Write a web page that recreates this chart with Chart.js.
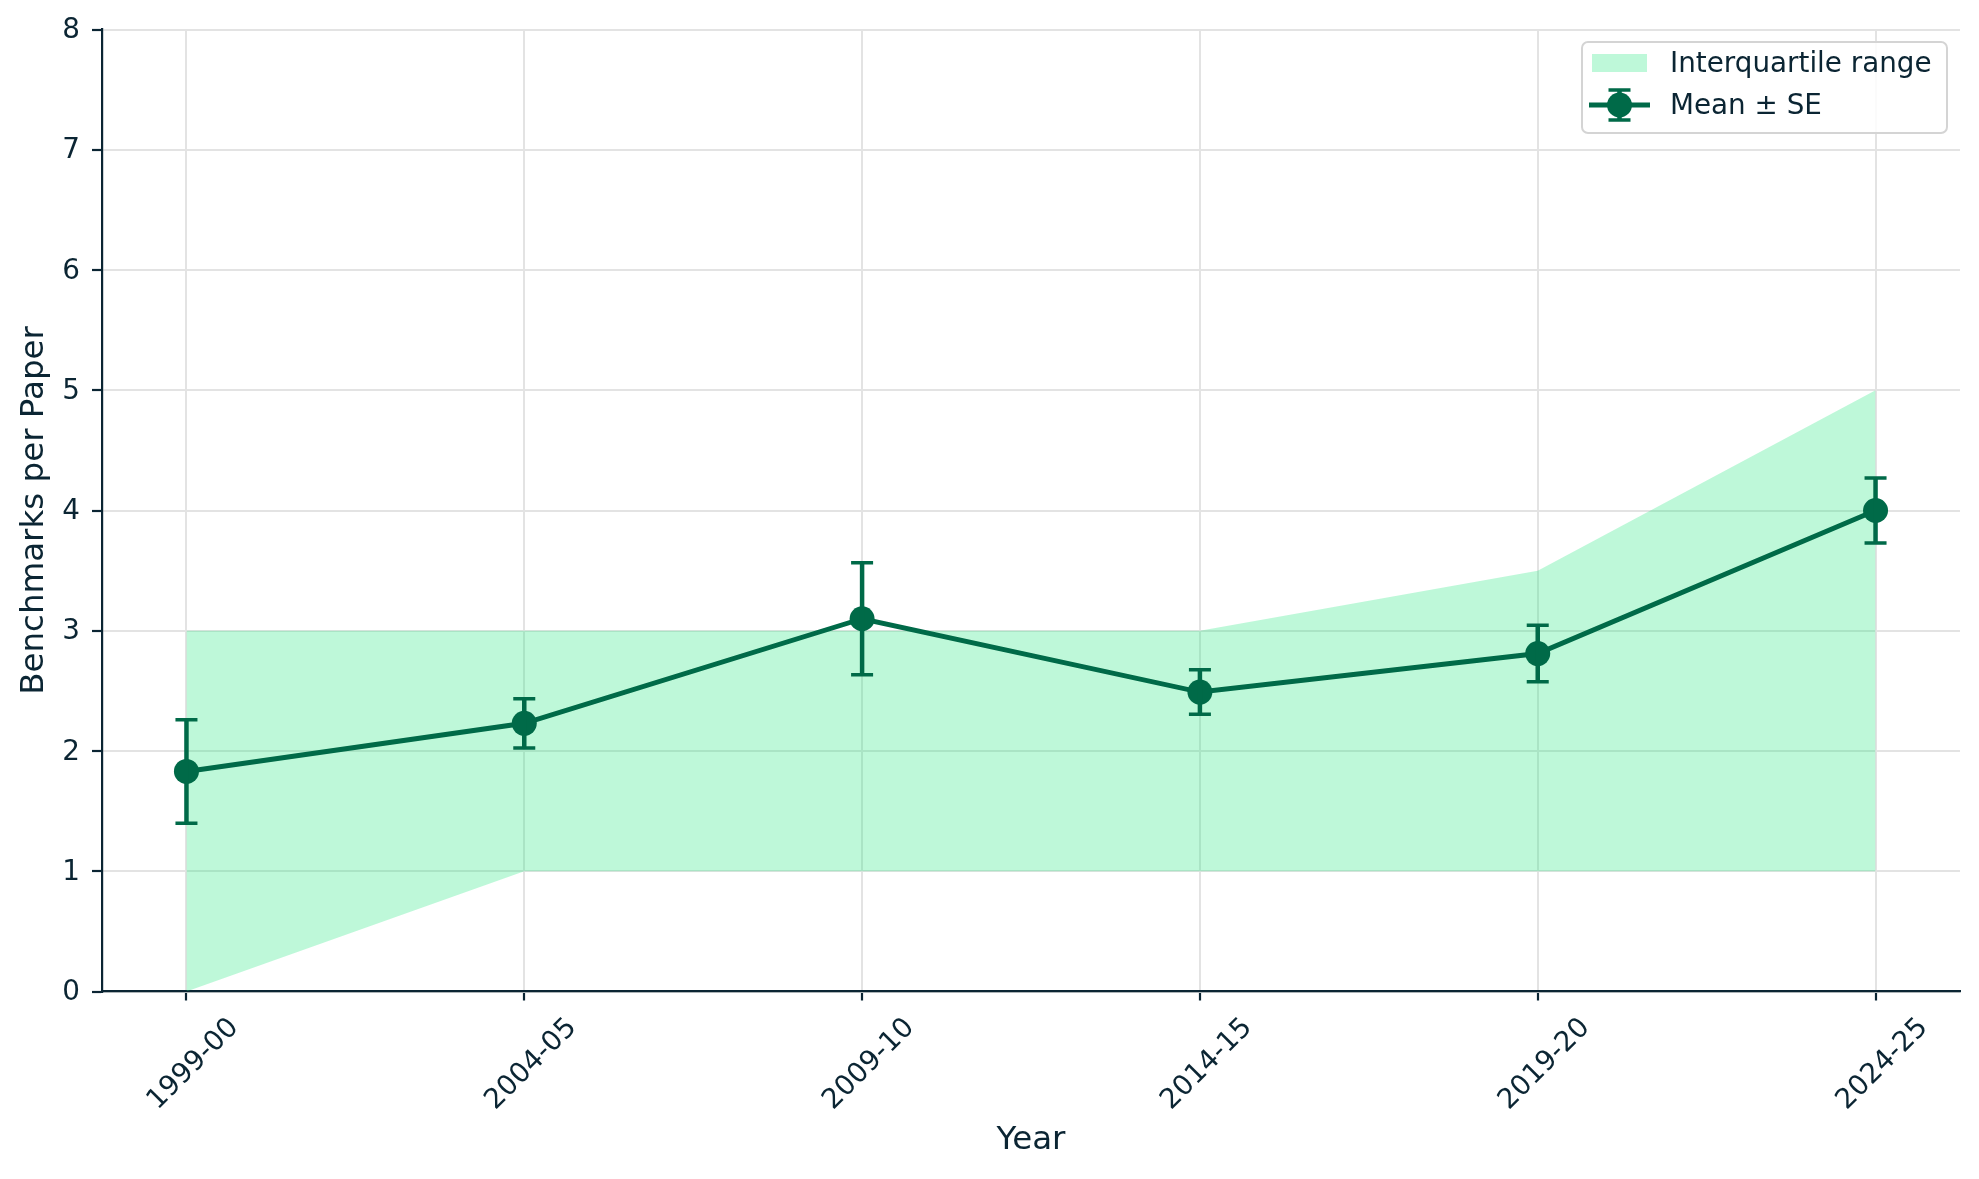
<!DOCTYPE html>
<html>
<head>
<meta charset="utf-8">
<script src="https://cdn.jsdelivr.net/npm/chart.js@4.4.1/dist/chart.umd.min.js"></script>
<style>
  html, body { margin: 0; padding: 0; background: #ffffff; overflow: hidden; }
  #wrap { position: relative; width: 1979px; height: 1179px; }
  #chart { display: block; }
</style>
</head>
<body>
<div id="wrap"><canvas id="chart" width="1979" height="1179" style="width:1979px;height:1179px"></canvas></div>
<script>
// ---- data ----
const years = ['1999-00', '2004-05', '2009-10', '2014-15', '2019-20', '2024-25'];
const meanValues = [1.83, 2.23, 3.10, 2.49, 2.81, 4.00];
const seValues = [0.43, 0.205, 0.465, 0.185, 0.235, 0.27];
const q1Values = [0, 1, 1, 1, 1, 1];
const q3Values = [3, 3, 3, 3, 3.5, 5];
const yTickValues = [0, 1, 2, 3, 4, 5, 6, 7, 8];

// ---- styles ----
const TEXT = '#0b2533';
const LINE_GREEN = '#006a48';
const FILL_MINT = 'rgba(40,232,130,0.30)';
const GRID = '#e3e3e3';
const FONT = 'DejaVu Sans';

const pts = arr => arr.map((v, i) => ({ x: i, y: v }));

const zeroPad = s => { s.paddingLeft = 0; s.paddingRight = 0; s.paddingTop = 0; s.paddingBottom = 0; };

const errorBarPlugin = {
  id: 'errorBars',
  afterDatasetsDraw(chart) {
    const { ctx, scales: { x, y } } = chart;
    ctx.save();
    ctx.strokeStyle = LINE_GREEN;
    meanValues.forEach((m, i) => {
      const px = x.getPixelForValue(i);
      const top = y.getPixelForValue(m + seValues[i]);
      const bot = y.getPixelForValue(m - seValues[i]);
      ctx.lineWidth = 4.5;
      ctx.beginPath(); ctx.moveTo(px, top); ctx.lineTo(px, bot); ctx.stroke();
      ctx.lineWidth = 3.5;
      ctx.beginPath();
      ctx.moveTo(px - 11, top); ctx.lineTo(px + 11, top);
      ctx.moveTo(px - 11, bot); ctx.lineTo(px + 11, bot);
      ctx.stroke();
    });
    ctx.restore();
  }
};

const legendPlugin = {
  id: 'boxLegend',
  afterDraw(chart) {
    const { ctx, chartArea } = chart;
    const w = 365, h = 91;
    const bx = chartArea.right - 13 - w;
    const by = chartArea.top + 12.5;
    ctx.save();
    ctx.beginPath();
    ctx.roundRect(bx, by, w, h, 6);
    ctx.fillStyle = 'rgba(255,255,255,0.85)';
    ctx.fill();
    ctx.lineWidth = 2;
    ctx.strokeStyle = '#d4d4d4';
    ctx.stroke();

    const labels = [chart.data.datasets[1].label, chart.data.datasets[2].label];
    // swatch
    ctx.fillStyle = FILL_MINT;
    ctx.fillRect(bx + 10, by + 12, 55, 18);
    // line + errorbar + marker
    const ly = by + 63;
    const cx = bx + 37.5;
    ctx.strokeStyle = LINE_GREEN;
    ctx.lineWidth = 5;
    ctx.beginPath(); ctx.moveTo(bx + 7, ly); ctx.lineTo(bx + 68, ly); ctx.stroke();
    ctx.lineWidth = 4.5;
    ctx.beginPath(); ctx.moveTo(cx, ly - 15); ctx.lineTo(cx, ly + 15); ctx.stroke();
    ctx.lineWidth = 3.5;
    ctx.beginPath();
    ctx.moveTo(cx - 11, ly - 15); ctx.lineTo(cx + 11, ly - 15);
    ctx.moveTo(cx - 11, ly + 15); ctx.lineTo(cx + 11, ly + 15);
    ctx.stroke();
    ctx.fillStyle = LINE_GREEN;
    ctx.beginPath(); ctx.arc(cx, ly, 12.5, 0, Math.PI * 2); ctx.fill();

    ctx.fillStyle = TEXT;
    ctx.font = '27.8px "' + FONT + '"';
    ctx.textAlign = 'left';
    ctx.textBaseline = 'middle';
    ctx.fillText(labels[0], bx + 88, by + 22.5);
    ctx.fillText(labels[1], bx + 88, ly + 1.5);
    ctx.restore();
  }
};

new Chart(document.getElementById('chart'), {
  type: 'line',
  data: {
    datasets: [
      {
        label: 'Q1',
        data: pts(q1Values),
        borderColor: 'rgba(0,0,0,0)',
        borderWidth: 0,
        pointRadius: 0,
        fill: false,
        tension: 0,
        order: 2
      },
      {
        label: 'Interquartile range',
        data: pts(q3Values),
        borderColor: 'rgba(0,0,0,0)',
        borderWidth: 0,
        backgroundColor: FILL_MINT,
        pointRadius: 0,
        fill: '-1',
        tension: 0,
        order: 1
      },
      {
        label: 'Mean \u00b1 SE',
        data: pts(meanValues),
        borderColor: LINE_GREEN,
        borderWidth: 5,
        backgroundColor: LINE_GREEN,
        pointRadius: 12.5,
        pointBackgroundColor: LINE_GREEN,
        pointBorderWidth: 0,
        pointHoverRadius: 12.5,
        fill: false,
        tension: 0,
        order: 0
      }
    ]
  },
  options: {
    responsive: false,
    maintainAspectRatio: false,
    animation: false,
    devicePixelRatio: 1,
    layout: { padding: { top: 29.5, right: 19, bottom: 0, left: 0 } },
    plugins: {
      legend: { display: false },
      tooltip: { enabled: false }
    },
    scales: {
      x: {
        type: 'linear',
        min: -0.25,
        max: 5.25,
        afterBuildTicks: s => { s.ticks = years.map((_, i) => ({ value: i })); },
        afterFit: s => { s.height = 187.5; zeroPad(s); },
        ticks: {
          callback: v => years[v],
          minRotation: 45,
          maxRotation: 45,
          autoSkip: false,
          labelOffset: 48,
          padding: 11,
          color: TEXT,
          font: { family: FONT, size: 27.8 }
        },
        grid: {
          color: GRID,
          lineWidth: 2,
          drawTicks: true,
          tickLength: 9,
          tickColor: TEXT,
          tickWidth: 2.2
        },
        border: { display: true, color: TEXT, width: 2.2 },
        title: {
          display: true,
          text: 'Year',
          color: TEXT,
          font: { family: FONT, size: 32.5 },
          padding: { top: 0, bottom: 19 }
        }
      },
      y: {
        type: 'linear',
        min: 0,
        max: 8,
        afterBuildTicks: s => { s.ticks = yTickValues.map(v => ({ value: v })); },
        afterFit: s => { s.width = 102; zeroPad(s); },
        ticks: {
          padding: 12,
          labelOffset: 1.5,
          color: TEXT,
          font: { family: FONT, size: 27.8 }
        },
        grid: {
          color: GRID,
          lineWidth: 2,
          drawTicks: true,
          tickLength: 10,
          tickColor: TEXT,
          tickWidth: 2.2
        },
        border: { display: true, color: TEXT, width: 2.2 },
        title: {
          display: true,
          text: 'Benchmarks per Paper',
          color: TEXT,
          font: { family: FONT, size: 32.5 },
          padding: { top: 15, bottom: 0 }
        }
      }
    }
  },
  plugins: [errorBarPlugin, legendPlugin]
});
</script>
</body>
</html>
